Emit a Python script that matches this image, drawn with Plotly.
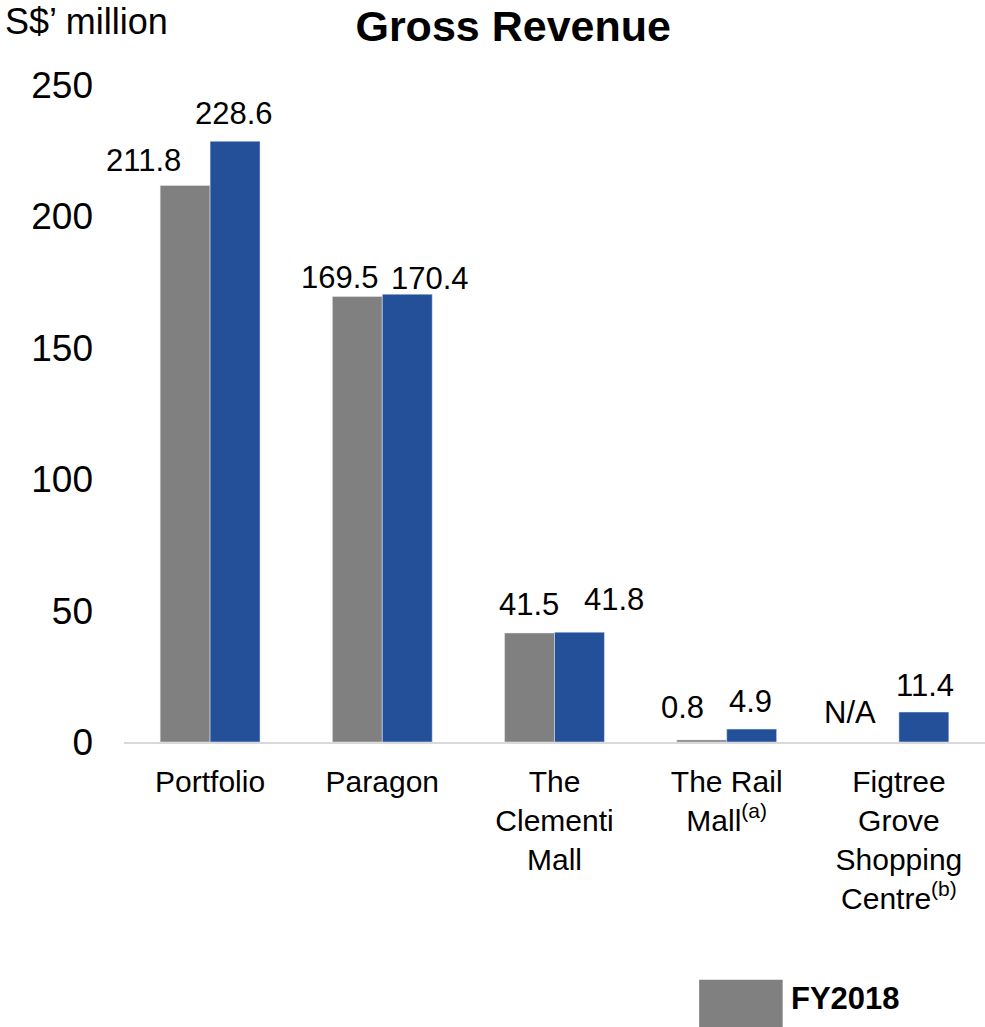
import plotly.graph_objects as go

categories = ["Portfolio", "Paragon", "The Clementi Mall", "The Rail Mall", "Figtree Grove Shopping Centre"]
tick_labels = ["Portfolio", "Paragon", "The<br>Clementi<br>Mall", "The Rail<br>Mall<sup>(a)</sup>",
               "Figtree<br>Grove<br>Shopping<br>Centre<sup>(b)</sup>"]
fy2018 = [211.8, 169.5, 41.5, 0.8, None]
fy2019 = [228.6, 170.4, 41.8, 4.9, 11.4]
fy2018_text = ["211.8", "169.5", "41.5", "0.8", "N/A"]
fy2019_text = ["228.6", "170.4", "41.8", "4.9", "11.4"]
y_ticks = [0, 50, 100, 150, 200, 250]

# label placement styling (pixel shifts)
shift18_x = [-42, -17, -1, -19, -24]
shift18_y = [25, 19, 28, 32, 30]
shift19_x = [-1, 23, 34, -1, 1]
shift19_y = [28, 16, 33, 28, 27]

FONT = "Liberation Sans, Arial, sans-serif"
GRAY = "#808080"
BLUE = "#24509A"

fig = go.Figure()
fig.add_trace(go.Bar(x=categories, y=fy2018, name="FY2018", marker_color=GRAY, showlegend=False))
fig.add_trace(go.Bar(x=categories, y=fy2019, name="FY2019", marker_color=BLUE, showlegend=False))

for i, c in enumerate(categories):
    fig.add_annotation(x=c, y=fy2018[i] if fy2018[i] is not None else 0, text=fy2018_text[i],
                       showarrow=False, xshift=shift18_x[i] - 25, yshift=shift18_y[i],
                       yanchor="middle", xanchor="center", font=dict(size=31, color="black", family=FONT))
    fig.add_annotation(x=c, y=fy2019[i], text=fy2019_text[i],
                       showarrow=False, xshift=shift19_x[i] + 25, yshift=shift19_y[i],
                       yanchor="middle", xanchor="center", font=dict(size=31, color="black", family=FONT))

# axis unit label
fig.add_annotation(xref="paper", yref="paper", x=-0.141, y=1.096, text="S$’ million",
                   showarrow=False, xanchor="left", yanchor="middle",
                   font=dict(size=36, color="black", family=FONT))

# legend (only FY2018 visible in the frame)
fig.add_shape(type="rect", xref="paper", yref="paper", x0=0.668, x1=0.765, y0=-0.362, y1=-0.44,
              fillcolor=GRAY, line=dict(width=0))
fig.add_annotation(xref="paper", yref="paper", x=0.772, y=-0.39, text="<b>FY2018</b>",
                   showarrow=False, xanchor="left", yanchor="middle",
                   font=dict(size=31, color="black", family=FONT))

fig.update_layout(
    width=985, height=1027,
    margin=dict(l=124, r=0, t=85, b=285, autoexpand=False),
    paper_bgcolor="white", plot_bgcolor="white",
    barmode="group", bargap=0.42, bargroupgap=0,
    title=dict(text="<b>Gross Revenue</b>", x=0.521, xanchor="center", y=0.975, yanchor="middle",
               font=dict(size=43, color="black", family=FONT)),
    font=dict(family=FONT, color="black"),
)
fig.update_xaxes(range=[-0.5, 4.5], tickvals=categories, ticktext=tick_labels,
                 tickfont=dict(size=30, color="black", family=FONT),
                 showline=True, linecolor="#D9D9D9", linewidth=2, showgrid=False, ticks="",
                 ticklabelstandoff=12, automargin=False)
fig.update_yaxes(range=[0, 250], tickvals=y_ticks, tickfont=dict(size=37, color="black", family=FONT),
                 showgrid=False, zeroline=False, showline=False, ticks="", ticklabelstandoff=30,
                 automargin=False)

fig.write_html("out.html")
